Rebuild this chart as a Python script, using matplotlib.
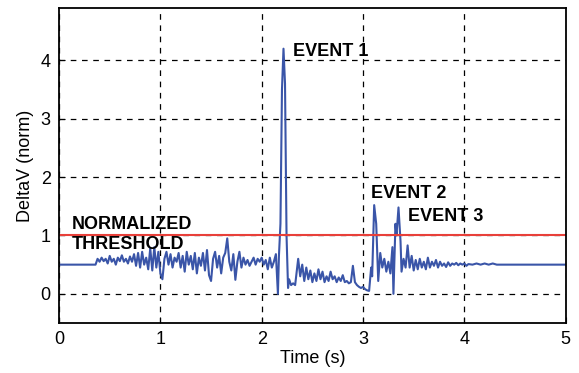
import numpy as np
from matplotlib import pyplot as plt

plt.rcParams['font.family'] = ['Liberation Sans', 'DejaVu Sans']

# signal (time in s, normalized delta V)
t = [0.00, 0.36, 0.38, 0.40, 0.42, 0.44, 0.46, 0.48, 0.50, 0.52, 0.54, 0.56, 0.58, 0.60,
     0.62, 0.64, 0.66, 0.68, 0.70, 0.72, 0.74, 0.76, 0.78, 0.80, 0.82, 0.84, 0.86, 0.88,
     0.90, 0.92, 0.94, 0.96, 0.98, 1.00, 1.02, 1.04, 1.06, 1.08, 1.10, 1.12, 1.14, 1.16,
     1.18, 1.20, 1.22, 1.24, 1.26, 1.28, 1.30, 1.32, 1.34, 1.36, 1.38, 1.40, 1.42, 1.44,
     1.46, 1.48, 1.50, 1.52, 1.54, 1.56, 1.58, 1.60, 1.62, 1.64, 1.66, 1.68, 1.70, 1.72,
     1.74, 1.76, 1.78, 1.80, 1.82, 1.84, 1.86, 1.88, 1.90, 1.92, 1.94, 1.96, 1.98, 2.00,
     2.02, 2.04, 2.06, 2.08, 2.10, 2.12, 2.14, 2.16, 2.17, 2.185, 2.20, 2.215, 2.23, 2.245,
     2.26, 2.27, 2.29, 2.31, 2.33, 2.36, 2.38, 2.40, 2.42, 2.44, 2.46, 2.48, 2.50, 2.52,
     2.54, 2.56, 2.58, 2.60, 2.62, 2.64, 2.66, 2.68, 2.70, 2.72, 2.74, 2.76, 2.78, 2.80,
     2.82, 2.84, 2.86, 2.88, 2.90, 2.92, 2.94, 2.96, 2.98, 3.00, 3.02, 3.04, 3.06, 3.08,
     3.09, 3.11, 3.13, 3.15, 3.17, 3.19, 3.21, 3.23, 3.25, 3.27, 3.29, 3.30, 3.32, 3.33,
     3.35, 3.37, 3.38, 3.40, 3.42, 3.44, 3.46, 3.48, 3.50, 3.52, 3.54, 3.56, 3.58, 3.60,
     3.62, 3.64, 3.66, 3.68, 3.70, 3.72, 3.74, 3.76, 3.78, 3.80, 3.82, 3.84, 3.86, 3.88,
     3.90, 3.92, 3.94, 3.96, 3.98, 4.00, 4.02, 4.04, 4.08, 4.12, 4.16, 4.20, 4.24, 4.28,
     4.32, 5.00]
dv = [0.50, 0.50, 0.60, 0.55, 0.62, 0.56, 0.60, 0.52, 0.65, 0.55, 0.60, 0.50, 0.62, 0.56,
      0.66, 0.55, 0.60, 0.52, 0.64, 0.55, 0.68, 0.48, 0.70, 0.45, 0.72, 0.50, 0.62, 0.42,
      0.78, 0.40, 0.80, 0.45, 0.72, 0.35, 0.25, 0.60, 0.72, 0.50, 0.68, 0.45, 0.62, 0.55,
      0.70, 0.45, 0.65, 0.38, 0.72, 0.50, 0.65, 0.42, 0.70, 0.35, 0.62, 0.48, 0.70, 0.40,
      0.75, 0.32, 0.22, 0.60, 0.72, 0.45, 0.65, 0.35, 0.62, 0.70, 0.95, 0.55, 0.40, 0.68,
      0.24, 0.55, 0.72, 0.45, 0.62, 0.50, 0.58, 0.48, 0.55, 0.62, 0.50, 0.60, 0.55, 0.62,
      0.50, 0.58, 0.42, 0.62, 0.45, 0.55, 0.68, 0.00, 0.65, 1.20, 3.50, 4.20, 3.60, 1.00,
      0.10, 0.25, 0.15, 0.18, 0.15, 0.60, 0.30, 0.50, 0.22, 0.45, 0.25, 0.40, 0.20, 0.35,
      0.22, 0.42, 0.25, 0.38, 0.20, 0.30, 0.22, 0.38, 0.25, 0.30, 0.20, 0.28, 0.22, 0.32,
      0.20, 0.22, 0.18, 0.20, 0.48, 0.20, 0.15, 0.12, 0.10, 0.12, 0.08, 0.06, 0.05, 0.45,
      0.30, 1.52, 1.20, 0.22, 0.70, 0.45, 0.60, 0.38, 0.55, 0.35, 0.80, 0.00, 1.20, 1.00,
      1.48, 0.90, 0.38, 0.60, 0.45, 0.83, 0.45, 0.65, 0.40, 0.58, 0.42, 0.60, 0.45, 0.55,
      0.42, 0.62, 0.45, 0.55, 0.48, 0.58, 0.45, 0.55, 0.48, 0.52, 0.46, 0.54, 0.48, 0.52,
      0.50, 0.53, 0.49, 0.52, 0.50, 0.52, 0.48, 0.51, 0.50, 0.52, 0.50, 0.52, 0.50, 0.52,
      0.50, 0.50]

threshold = 1.0

fig = plt.figure(figsize=(5.79, 3.73), dpi=100)
ax = fig.add_axes([0.102, 0.134, 0.875, 0.845])

ax.plot(t, dv, color='#3a55a8', linewidth=1.5)
ax.axhline(threshold, color='#e8403a', linewidth=1.5)

ax.set_xlim(0, 5)
ax.set_ylim(-0.5, 4.9)
ax.set_xticks([0, 1, 2, 3, 4, 5])
ax.set_yticks([0, 1, 2, 3, 4])
ax.grid(True, color='black', linestyle=(0, (4.5, 4.5)), linewidth=0.9)
ax.tick_params(direction='in', labelsize=13, pad=6, length=4)
for s in ax.spines.values():
    s.set_linewidth(1.3)

ax.set_xlabel('Time (s)', fontsize=13, labelpad=1)
ax.set_ylabel('DeltaV (norm)', fontsize=13, labelpad=5)

ax.text(2.31, 4.15, 'EVENT 1', fontsize=13, fontweight='bold', va='center')
ax.text(3.08, 1.72, 'EVENT 2', fontsize=13, fontweight='bold', va='center')
ax.text(3.44, 1.33, 'EVENT 3', fontsize=13, fontweight='bold', va='center')
ax.text(0.13, 1.19, 'NORMALIZED', fontsize=13, fontweight='bold', va='center')
ax.text(0.13, 0.84, 'THRESHOLD', fontsize=13, fontweight='bold', va='center')

plt.savefig('out.png', dpi=100)
